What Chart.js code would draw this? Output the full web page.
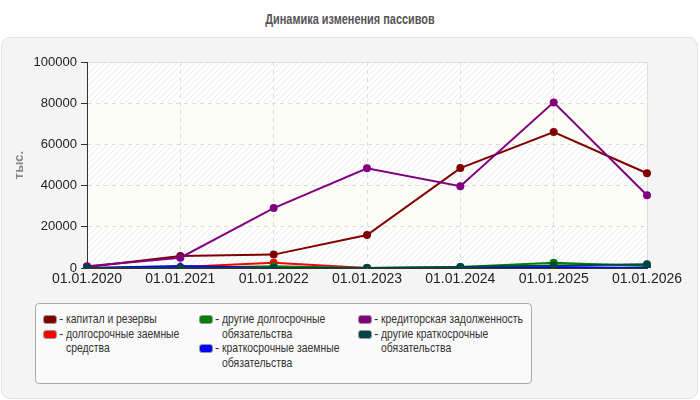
<!DOCTYPE html>
<html>
<head>
<meta charset="utf-8">
<script src="https://cdn.jsdelivr.net/npm/chart.js@4/dist/chart.umd.min.js"></script>
<style>
  body { margin: 0; background: #fff; font-family: "Liberation Sans", Arial, sans-serif; }
  #wrap { position: relative; width: 700px; height: 400px; overflow: hidden; }
  #title { position: absolute; top: 11px; left: 0; width: 700px; text-align: center;
    font-size: 14px; font-weight: bold; color: #555; transform: scaleX(0.78); }
  #panel { position: absolute; left: 1px; top: 37px; width: 695px; height: 360px;
    background: #f4f4f4; border: 1px solid #e2e2e2; border-radius: 9px; }
  #chart { position: absolute; left: 0; top: 0; }
  #legend { position: absolute; left: 35px; top: 303px; width: 495px; height: 79px;
    background: #fafafa; border: 1px solid #aaa; border-radius: 4px; }
  .item { position: absolute; font-size: 13px; color: #333; line-height: 14.5px; }
  .item .sw { position: absolute; left: 0; top: 3px; width: 12px; height: 7px;
    border: 1px solid #999; border-radius: 3px; }
  .item .dash { position: absolute; left: 16px; top: 0; }
  .item .tx { position: absolute; left: 23px; top: 0; white-space: nowrap;
    transform: scaleX(0.8); transform-origin: left top; }
</style>
</head>
<body>
<div id="wrap">
  <div id="title">Динамика изменения пассивов</div>
  <div id="panel"></div>
  <canvas id="chart" width="700" height="400"></canvas>
  <div id="legend"></div>
</div>
<script>
const dates = ['01.01.2020', '01.01.2021', '01.01.2022', '01.01.2023', '01.01.2024', '01.01.2025', '01.01.2026'];

const kapital = [500, 5800, 6500, 16000, 48500, 66000, 46000];
const dolgZaem = [0, 500, 2500, 0, 0, 0, 0];
const drugieDolg = [0, 0, 800, 0, 500, 2500, 1000];
const kratkZaem = [0, 1000, 0, 0, 0, 500, 0];
const kreditor = [800, 5000, 29100, 48400, 39700, 80400, 35300];
const drugieKratk = [0, 0, 0, 0, 500, 1200, 1800];

const yTicks = [0, 20000, 40000, 60000, 80000, 100000];

// порядок в легенде: по колонкам
const series = [
  { label: 'капитал и резервы', data: kapital, color: '#800000', point: 'circle', col: 0, row: 0 },
  { label: 'долгосрочные заемные\nсредства', data: dolgZaem, color: '#ff0000', point: 'circle', col: 0, row: 1 },
  { label: 'другие долгосрочные\nобязательства', data: drugieDolg, color: '#008000', point: 'circle', col: 1, row: 0 },
  { label: 'краткосрочные заемные\nобязательства', data: kratkZaem, color: '#0000ff', point: 'rectRot', col: 1, row: 2 },
  { label: 'кредиторская задолженность', data: kreditor, color: '#800080', point: 'circle', col: 2, row: 0 },
  { label: 'другие краткосрочные\nобязательства', data: drugieKratk, color: '#004545', point: 'circle', col: 2, row: 1 },
];

// легенда
const legend = document.getElementById('legend');
const colX = [7, 163, 322];
series.forEach(s => {
  const el = document.createElement('div');
  el.className = 'item';
  el.style.left = colX[s.col] + 'px';
  el.style.top = (8 + s.row * 14.5) + 'px';
  el.innerHTML = `<div class="sw" style="background:${s.color}"></div><span class="dash">-</span><div class="tx">${s.label.replace('\n', '<br>')}</div>`;
  legend.appendChild(el);
});

// штриховка фона
function makePattern() {
  const c = document.createElement('canvas');
  c.width = 6; c.height = 6;
  const g = c.getContext('2d');
  g.fillStyle = '#ffffff';
  g.fillRect(0, 0, 6, 6);
  g.strokeStyle = '#ebebeb';
  g.lineWidth = 1;
  g.beginPath();
  g.moveTo(0, 6); g.lineTo(6, 0);
  g.moveTo(-3, 3); g.lineTo(3, -3);
  g.moveTo(3, 9); g.lineTo(9, 3);
  g.stroke();
  return g.createPattern(c, 'repeat');
}

const bandsPlugin = {
  id: 'bands',
  beforeDraw(chart) {
    const { ctx, chartArea, scales } = chart;
    const pat = makePattern();
    ctx.save();
    for (let i = 0; i < yTicks.length - 1; i++) {
      const y1 = scales.y.getPixelForValue(yTicks[i + 1]);
      const y0 = scales.y.getPixelForValue(yTicks[i]);
      ctx.fillStyle = i % 2 === 0 ? pat : '#fdfdf7';
      ctx.fillRect(chartArea.left, y1, chartArea.right - chartArea.left, y0 - y1);
    }
    ctx.strokeStyle = '#dddddd';
    ctx.lineWidth = 1;
    ctx.beginPath();
    ctx.moveTo(chartArea.left, chartArea.top + 0.5);
    ctx.lineTo(chartArea.right + 0.5, chartArea.top + 0.5);
    ctx.lineTo(chartArea.right + 0.5, chartArea.bottom);
    ctx.stroke();
    ctx.restore();
  }
};

new Chart(document.getElementById('chart').getContext('2d'), {
  type: 'line',
  data: {
    labels: dates,
    datasets: series.map((s, i) => ({
      label: s.label,
      data: s.data,
      borderColor: s.color,
      backgroundColor: s.color,
      borderWidth: 2,
      pointStyle: s.point,
      pointRadius: 4,
      pointBorderWidth: 0,
      pointHoverRadius: 4,
      tension: 0,
      order: series.length - i, // последние серии рисуются сверху
    })),
  },
  options: {
    responsive: false,
    animation: false,
    layout: { padding: { top: 62, right: 53, left: 12, bottom: 107 } },
    plugins: {
      legend: { display: false },
      tooltip: { enabled: false },
    },
    scales: {
      x: {
        offset: false,
        grid: { color: '#dddddd', tickLength: 0, drawTicks: false },
        border: { color: '#333', width: 1, dash: [4, 4] },
        ticks: { color: '#222', font: { family: 'Liberation Sans', size: 14 }, padding: 3, maxRotation: 0, autoSkip: false },
        afterFit: (scale) => { scale.height = 25; },
      },
      y: {
        min: 0,
        max: 100000,
        afterBuildTicks: (scale) => { scale.ticks = yTicks.map(v => ({ value: v })); },
        grid: { color: '#dddddd', tickLength: 6, tickColor: '#333' },
        border: { color: '#333', width: 1, dash: [4, 4] },
        ticks: { color: '#222', font: { family: 'Liberation Sans', size: 13 }, padding: 4,
          callback: (v) => String(v) },
        title: { display: true, text: 'тыс.', color: '#888', font: { family: 'Liberation Sans', size: 13, weight: 'bold' }, padding: 0 },
        afterFit: (scale) => { scale.width = 75; },
      },
    },
  },
  plugins: [bandsPlugin],
});
</script>
</body>
</html>
